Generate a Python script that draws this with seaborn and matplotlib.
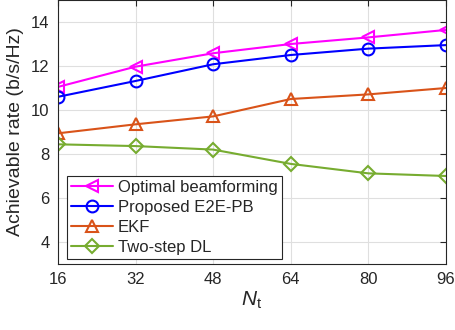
import matplotlib
matplotlib.use("Agg")
import matplotlib.pyplot as plt
import seaborn as sns
import pandas as pd

## datos
nt = [16, 32, 48, 64, 80, 96]
optimal = [11.05, 11.97, 12.58, 13.0, 13.3, 13.64]
proposed = [10.6, 11.32, 12.08, 12.5, 12.79, 12.95]
ekf = [8.94, 9.35, 9.71, 10.5, 10.71, 11.0]
two_step = [8.44, 8.36, 8.2, 7.55, 7.12, 7.0]

names = ["Optimal beamforming", "Proposed E2E-PB", "EKF", "Two-step DL"]
colores = ["#FF00FF", "#0000FF", "#D95319", "#77AC30"]
marcadores = ["<", "o", "^", "D"]

df = pd.DataFrame({"Nt": nt * 4,
                   "rate": optimal + proposed + ekf + two_step,
                   "metodo": [n for n in names for _ in nt]})

sns.set_style("whitegrid")
plt.rcParams["font.family"] = ["Liberation Sans", "DejaVu Sans"]
plt.rcParams["mathtext.fontset"] = "custom"
plt.rcParams["mathtext.it"] = "Liberation Sans:italic"
plt.rcParams["mathtext.rm"] = "Liberation Sans"

fig = plt.figure(figsize=(4.55, 3.3), dpi=100)
ax = fig.add_axes([58 / 455, 1 - 264 / 330, 388 / 455, 264 / 330])

for n, c, m in zip(names, colores, marcadores):
    d = df[df["metodo"] == n]
    sns.lineplot(data=d, x="Nt", y="rate", ax=ax, color=c, marker=m,
                 markersize=8.5 if m != "D" else 7, markerfacecolor="none",
                 markeredgecolor=c, markeredgewidth=1.5, linewidth=1.5,
                 label=n)

ax.set_xlim(16, 96)
ax.set_ylim(3, 15)
ax.set_xticks(nt)
ax.set_yticks([4, 6, 8, 10, 12, 14])
ax.grid(True, color="#DFDFDF", linewidth=0.8)
for s in ax.spines.values():
    s.set_color("#262626")
    s.set_linewidth(0.8)
ax.tick_params(axis="both", direction="in", length=4, labelsize=12,
               colors="#262626", top=True, right=True, pad=6)
ax.set_xlabel(r"$N_\mathrm{t}$", fontsize=15, color="#262626", labelpad=2)
ax.set_ylabel("Achievable rate (b/s/Hz)", fontsize=14, color="#262626",
              labelpad=5)

leg = ax.legend(loc="lower left", bbox_to_anchor=(0.01, 0.0), fontsize=12,
                frameon=True, fancybox=False, framealpha=1,
                edgecolor="#262626", handlelength=2.5, borderpad=0.25,
                labelspacing=0.3, handletextpad=0.3, borderaxespad=0.3)
leg.get_frame().set_linewidth(0.8)

fig.savefig("out.png", dpi=100)
